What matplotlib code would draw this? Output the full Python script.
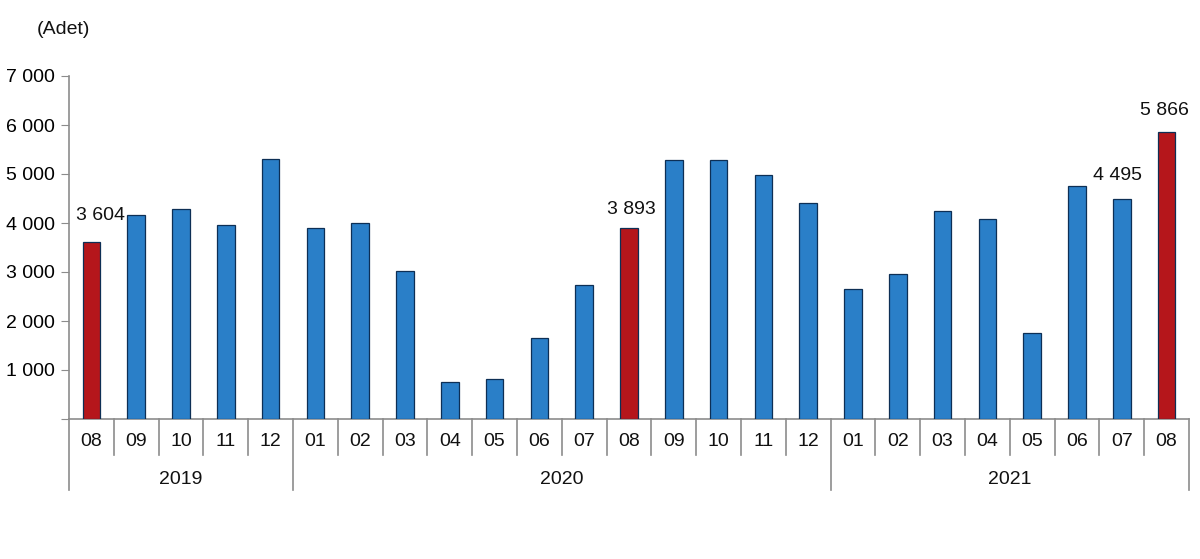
import matplotlib
matplotlib.use("Agg")
from matplotlib import pyplot as plt
import matplotlib.transforms as mtransforms

plt.rcParams['font.family'] = ['Liberation Sans', 'DejaVu Sans']

# aylar ve yillar
months = ['08', '09', '10', '11', '12',
          '01', '02', '03', '04', '05', '06', '07', '08', '09', '10', '11', '12',
          '01', '02', '03', '04', '05', '06', '07', '08']
years = ['2019', '2020', '2021']
year_counts = [5, 12, 8]

values = [3604, 4160, 4280, 3955, 5310,
          3890, 3990, 3030, 750, 820, 1645, 2725, 3893, 5280, 5280, 4970, 4415,
          2655, 2965, 4245, 4075, 1750, 4765, 4495, 5866]

# etiketli barlar
labeled = {0: '3 604', 12: '3 893', 23: '4 495', 24: '5 866'}
red_bars = [0, 12, 24]

blue = '#2a7fc8'
red = '#b5161b'
grey = '#8c8c8c'

fig = plt.figure(figsize=(12, 5.59), dpi=100)
ax = fig.add_axes([69 / 1200, 1 - 419 / 559, 1120 / 1200, 343 / 559])

x = list(range(len(values)))
colors = [red if i in red_bars else blue for i in x]
ax.bar(x, values, width=0.39, color=colors, edgecolor='#0d2f55', linewidth=0.9, zorder=3)

ax.set_xlim(-0.5, len(values) - 0.5)
ax.set_ylim(0, 7000)
ax.set_yticks(range(0, 7001, 1000))
ax.set_yticklabels(['' if v == 0 else '{:,}'.format(v).replace(',', ' ') for v in range(0, 7001, 1000)],
                   fontsize=14)
ax.tick_params(axis='y', direction='out', length=6, color=grey, pad=4)
ax.tick_params(axis='x', bottom=False, labelbottom=False)

for s in ['top', 'right']:
    ax.spines[s].set_visible(False)
ax.spines['left'].set_color(grey)
ax.spines['bottom'].set_color(grey)
ax.spines['left'].set_linewidth(1.2)
ax.spines['bottom'].set_linewidth(1.2)

# degerler
offsets = {0: (0.2, 550), 12: (0.05, 380), 23: (-0.1, 480), 24: (-0.05, 430)}
for i, txt in labeled.items():
    dx, dy = offsets[i]
    ax.text(i + dx, values[i] + dy, txt, ha='center', va='center', fontsize=14, color='#111111')

# x ekseni: ay ve yil etiketleri
trans = mtransforms.blended_transform_factory(ax.transData, ax.transAxes)
year_bounds = [-0.5]
for c in year_counts:
    year_bounds.append(year_bounds[-1] + c)

for i, m in enumerate(months):
    ax.text(i, -0.066, m, transform=trans, ha='center', va='center', fontsize=14, color='#111111')

for b in range(len(months) + 1):
    xb = b - 0.5
    low = -0.207 if xb in year_bounds else -0.105
    ax.plot([xb, xb], [0, low], transform=trans, color=grey, linewidth=1.2, clip_on=False)

for k, y in enumerate(years):
    mid = (year_bounds[k] + year_bounds[k + 1]) / 2
    ax.text(mid, -0.177, y, transform=trans, ha='center', va='center', fontsize=14, color='#111111')

fig.text(37 / 1200, 1 - 30 / 559, '(Adet)', ha='left', va='center', fontsize=14, color='#111111')

fig.savefig('out.png', dpi=100)
